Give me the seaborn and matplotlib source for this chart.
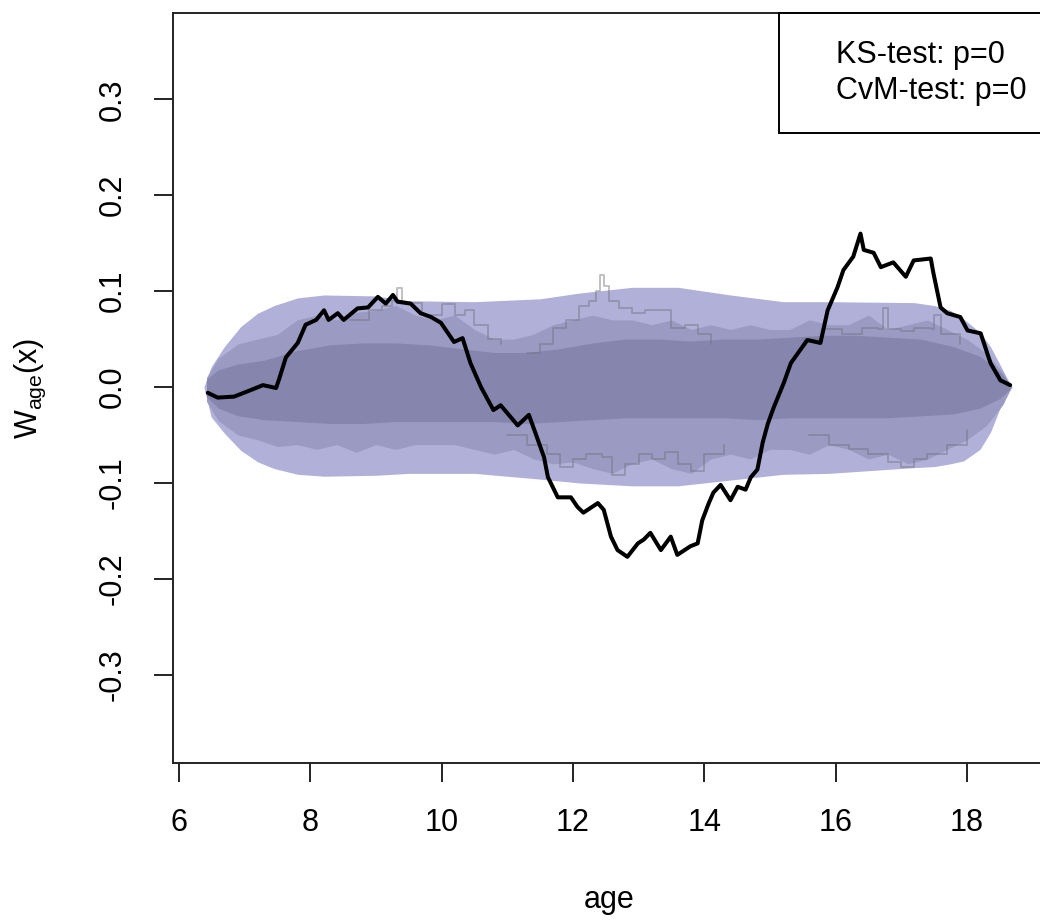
import numpy as np
import pandas as pd
import matplotlib
matplotlib.use("Agg")
import matplotlib.pyplot as plt
from matplotlib.lines import Line2D
import seaborn as sns

# ---------------- data ----------------
# observed cumulative residual process W_age(x)
obs_age = [6.44, 6.59, 6.84, 7.10, 7.28, 7.48, 7.52, 7.63, 7.81, 7.93,
           8.09, 8.21, 8.28, 8.42, 8.51, 8.72, 8.88, 9.03, 9.15, 9.26,
           9.33, 9.53, 9.68, 9.84, 9.99, 10.19, 10.32, 10.44, 10.60, 10.79,
           10.90, 11.16, 11.33, 11.43, 11.56, 11.62, 11.77, 11.97, 12.07, 12.16,
           12.38, 12.47, 12.58, 12.68, 12.83, 12.99, 13.08, 13.18, 13.34, 13.49,
           13.59, 13.79, 13.90, 13.97, 14.07, 14.14, 14.25, 14.40, 14.51, 14.63,
           14.71, 14.81, 14.89, 14.97, 15.06, 15.21, 15.32, 15.57, 15.77, 15.88,
           16.03, 16.12, 16.27, 16.38, 16.43, 16.58, 16.69, 16.88, 17.07, 17.19,
           17.45, 17.49, 17.60, 17.70, 17.90, 18.01, 18.21, 18.36, 18.51, 18.66]
obs_w = [-0.006, -0.011, -0.010, -0.003, 0.002, -0.001, 0.007, 0.031, 0.046, 0.065,
         0.070, 0.080, 0.070, 0.077, 0.070, 0.082, 0.083, 0.094, 0.087, 0.096,
         0.089, 0.087, 0.077, 0.073, 0.067, 0.047, 0.051, 0.025, 0.000, -0.024,
         -0.019, -0.040, -0.029, -0.048, -0.073, -0.094, -0.115, -0.115, -0.125, -0.131,
         -0.121, -0.128, -0.156, -0.170, -0.177, -0.163, -0.159, -0.152, -0.170, -0.156,
         -0.175, -0.166, -0.163, -0.139, -0.121, -0.110, -0.102, -0.118, -0.104, -0.107,
         -0.094, -0.086, -0.058, -0.038, -0.021, 0.004, 0.025, 0.049, 0.046, 0.080,
         0.104, 0.122, 0.136, 0.160, 0.143, 0.140, 0.125, 0.130, 0.115, 0.132,
         0.134, 0.119, 0.083, 0.077, 0.073, 0.059, 0.056, 0.025, 0.007, 0.002]

# 95% confidence band
band_age = [6.38, 6.49, 6.69, 6.94, 7.20, 7.45, 7.81, 8.21, 9.0, 9.5,
            10.5, 11.5, 12.1, 12.9, 13.6, 14.4, 15.2, 15.9, 17.2, 17.5,
            17.75, 17.95, 18.2, 18.36, 18.5, 18.62, 18.69]
band_upper = [0.0, 0.021, 0.042, 0.063, 0.077, 0.085, 0.093, 0.096, 0.095, 0.090,
              0.089, 0.092, 0.098, 0.104, 0.104, 0.096, 0.089, 0.089, 0.088, 0.085,
              0.080, 0.071, 0.057, 0.042, 0.024, 0.008, 0.0]
band_lower = [0.0, -0.031, -0.048, -0.066, -0.078, -0.085, -0.091, -0.093, -0.092, -0.090,
              -0.090, -0.096, -0.100, -0.103, -0.103, -0.097, -0.091, -0.090, -0.084, -0.083,
              -0.080, -0.077, -0.065, -0.047, -0.023, -0.006, 0.0]

# envelope of the bulk of the simulated paths
mid_age = [6.42, 6.6, 6.9, 7.2, 7.5, 7.8, 8.1, 8.4, 8.7, 9.0, 9.3, 9.6, 9.9, 10.2,
           10.5, 10.8, 11.1, 11.4, 11.7, 12.0, 12.3, 12.6, 12.9, 13.2, 13.5, 13.8,
           14.1, 14.4, 14.7, 15.0, 15.3, 15.6, 15.9, 16.2, 16.5, 16.8, 17.1, 17.4,
           17.7, 18.0, 18.3, 18.55, 18.68]
mid_upper = [0.01, 0.03, 0.045, 0.05, 0.055, 0.07, 0.075, 0.07, 0.078, 0.08, 0.085, 0.075,
             0.07, 0.075, 0.06, 0.05, 0.05, 0.055, 0.065, 0.07, 0.075, 0.07, 0.07, 0.065,
             0.07, 0.06, 0.065, 0.06, 0.065, 0.06, 0.06, 0.07, 0.065, 0.065, 0.075, 0.06,
             0.065, 0.07, 0.06, 0.05, 0.035, 0.015, 0.0]
mid_lower = [-0.015, -0.035, -0.05, -0.055, -0.062, -0.06, -0.065, -0.06, -0.068, -0.06,
             -0.065, -0.06, -0.06, -0.06, -0.065, -0.07, -0.065, -0.075, -0.08, -0.078,
             -0.085, -0.09, -0.08, -0.075, -0.085, -0.09, -0.075, -0.07, -0.075, -0.065,
             -0.065, -0.07, -0.06, -0.065, -0.075, -0.07, -0.08, -0.075, -0.065, -0.055,
             -0.04, -0.018, 0.0]

# densest overlap of the simulated paths
core_age = [6.42, 6.6, 6.9, 7.3, 7.8, 8.3, 8.8, 9.3, 9.8, 10.3, 10.8, 11.3, 11.8, 12.3,
            12.8, 13.3, 13.8, 14.3, 14.8, 15.3, 15.8, 16.3, 16.8, 17.3, 17.8, 18.2,
            18.5, 18.66]
core_upper = [0.008, 0.018, 0.024, 0.028, 0.038, 0.044, 0.046, 0.046, 0.044, 0.040,
              0.036, 0.036, 0.040, 0.046, 0.050, 0.050, 0.048, 0.050, 0.050, 0.052,
              0.054, 0.054, 0.052, 0.050, 0.042, 0.032, 0.016, 0.003]
core_lower = [-0.010, -0.022, -0.030, -0.034, -0.036, -0.038, -0.038, -0.036, -0.036,
              -0.036, -0.036, -0.038, -0.036, -0.034, -0.032, -0.032, -0.032, -0.032,
              -0.034, -0.032, -0.032, -0.032, -0.032, -0.030, -0.028, -0.022, -0.012,
              -0.002]

# a few simulated paths that stand out from the bulk
p1_age = [11.3, 11.5, 11.7, 11.9, 12.1, 12.25, 12.35, 12.42, 12.48, 12.55, 12.7, 12.9,
          13.1, 13.3, 13.5, 13.7, 13.9, 14.1]
p1_w = [0.035, 0.045, 0.062, 0.07, 0.085, 0.09, 0.1, 0.117, 0.105, 0.09, 0.082, 0.077,
        0.08, 0.08, 0.062, 0.065, 0.055, 0.045]
p2_age = [8.6, 8.9, 9.1, 9.25, 9.32, 9.4, 9.7, 10.0, 10.2, 10.35, 10.5, 10.7, 10.9]
p2_w = [0.07, 0.08, 0.085, 0.09, 0.103, 0.088, 0.075, 0.087, 0.075, 0.08, 0.065, 0.05, 0.045]
p3_age = [15.5, 15.8, 16.1, 16.4, 16.65, 16.72, 16.8, 17.0, 17.2, 17.45, 17.5, 17.6, 17.9]
p3_w = [0.05, 0.06, 0.055, 0.062, 0.06, 0.082, 0.06, 0.058, 0.062, 0.06, 0.075, 0.055, 0.045]
p4_age = [11.0, 11.3, 11.6, 11.8, 12.0, 12.2, 12.45, 12.6, 12.8, 13.0, 13.2, 13.4, 13.6,
          13.8, 14.0, 14.3]
p4_w = [-0.05, -0.06, -0.07, -0.083, -0.075, -0.07, -0.073, -0.092, -0.08, -0.07, -0.075,
        -0.068, -0.08, -0.088, -0.07, -0.06]
p5_age = [15.6, 15.9, 16.2, 16.5, 16.8, 17.0, 17.2, 17.4, 17.7, 18.0]
p5_w = [-0.05, -0.06, -0.065, -0.07, -0.078, -0.083, -0.075, -0.07, -0.06, -0.045]

x_ticks = [6, 8, 10, 12, 14, 16, 18]
y_ticks = [-0.3, -0.2, -0.1, 0.0, 0.1, 0.2, 0.3]
legend_labels = ["KS-test: p=0", "CvM-test: p=0"]

# ---------------- drawing ----------------
sns.set_theme(style="white")
plt.rcParams["font.family"] = ["Liberation Sans", "DejaVu Sans"]
plt.rcParams["axes.unicode_minus"] = False
plt.rcParams["text.color"] = "black"

FS = 22
fig = plt.figure(figsize=(10.4, 9.21), dpi=100)
ax = fig.add_axes([173 / 1040, 158 / 921, 872 / 1040, 750 / 921])

ax.fill_between(band_age, band_lower, band_upper, color="#B0B0D9", lw=0, zorder=1)
ax.fill_between(mid_age, mid_lower, mid_upper, color="#9A9AC3", lw=0, zorder=2)
ax.fill_between(core_age, core_lower, core_upper, color="#8585AE", lw=0, zorder=3)

paths = pd.concat([
    pd.DataFrame({"age": a, "w": w, "sim": i})
    for i, (a, w) in enumerate([(p1_age, p1_w), (p2_age, p2_w), (p3_age, p3_w),
                                (p4_age, p4_w), (p5_age, p5_w)])
])
sns.lineplot(data=paths, x="age", y="w", units="sim", estimator=None, sort=False,
             color=(0.45, 0.45, 0.5), alpha=0.45, lw=1.4, drawstyle="steps-post",
             ax=ax, zorder=4, legend=False)

obs = pd.DataFrame({"age": obs_age, "w": obs_w})
sns.lineplot(data=obs, x="age", y="w", estimator=None, sort=False, color="black",
             lw=2.9, ax=ax, zorder=5)

ax.set_xlim(5.91, 19.19)
ax.set_ylim(-0.392, 0.39)
ax.set_xticks(x_ticks)
ax.set_xticklabels([str(t) for t in x_ticks])
ax.set_yticks(y_ticks)
ax.set_yticklabels([f"{t:.1f}" for t in y_ticks], rotation=90, va="center")
ax.tick_params(axis="both", which="major", direction="out", length=13.5, width=1.4,
               color="#222222", labelsize=FS, labelcolor="black", pad=19,
               bottom=True, left=True)
for s in ax.spines.values():
    s.set_color("#222222")
    s.set_linewidth(1.4)

ax.set_xlabel("age", fontsize=FS, color="black")
ax.xaxis.set_label_coords(0.5, -0.183)
ax.xaxis.label.set_va("center")
ax.set_ylabel(r"$\mathregular{W_{age}(x)}$", fontsize=FS, color="black")
ax.yaxis.set_label_coords(-0.164, 0.5)
ax.yaxis.label.set_va("center")

handles = [Line2D([], [], color="none", linestyle="none") for _ in legend_labels]
leg = ax.legend(handles, legend_labels, loc="upper right",
                bbox_to_anchor=(1.011, 1.0), fontsize=FS,
                frameon=True, fancybox=False, framealpha=1, edgecolor="black",
                borderaxespad=0, borderpad=0.9, handlelength=0.2,
                handletextpad=0.78, labelspacing=0.18)
leg.get_frame().set_linewidth(1.4)
leg.set_zorder(10)
for t in leg.get_texts():
    t.set_color("black")

fig.savefig("out.png", dpi=100)
